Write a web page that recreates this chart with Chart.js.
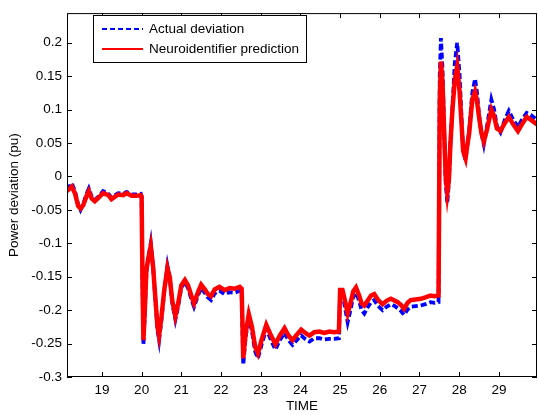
<!DOCTYPE html>
<html><head><meta charset="utf-8">
<script src="https://cdn.jsdelivr.net/npm/chart.js@4.4.1/dist/chart.umd.min.js"></script>
<style>html,body{margin:0;padding:0;background:#fff;overflow:hidden}#wrap{position:relative;width:538px;height:415px}</style>
</head><body><div id="wrap"><canvas id="c" width="538" height="415"></canvas></div>
<script>
const time = [
 18.12,18.24,18.32,18.40,18.46,18.53,18.62,18.67,18.74,18.82,18.91,19.03,19.16,19.24,19.41,19.54,19.62,19.75,19.87,19.98,
 20.00,20.02,20.045,20.08,20.12,20.16,20.23,20.29,20.35,20.40,20.44,20.50,20.57,20.65,20.71,20.77,20.85,20.92,21.00,21.09,
 21.17,21.25,21.32,21.42,21.50,21.59,21.67,21.75,21.84,21.96,22.09,22.22,22.34,22.47,22.52,
 22.56,22.62,22.70,22.78,22.86,22.93,23.02,23.14,23.26,23.37,23.48,23.60,23.70,23.80,23.92,24.02,24.12,24.23,24.35,24.48,
 24.60,24.73,24.85,24.97,
 25.00,25.06,25.12,25.19,25.26,25.33,25.40,25.48,25.54,25.61,25.70,25.78,25.86,25.96,26.07,26.17,26.28,26.38,26.45,26.53,
 26.61,26.70,26.78,26.90,27.03,27.15,27.28,27.38,27.48,
 27.51,27.54,27.58,27.62,27.66,27.70,27.74,27.78,27.83,27.89,27.95,28.01,28.06,28.10,28.16,28.20,28.25,28.33,28.40,28.45,
 28.50,28.56,28.62,28.70,28.81,28.88,28.95,29.04,29.15,29.25,29.36,29.48,29.58,29.70,29.80,29.96
];
const actualDeviation = [
 -0.020,-0.010,-0.022,-0.042,-0.050,-0.041,-0.025,-0.018,-0.030,-0.035,-0.030,-0.022,-0.026,-0.031,-0.025,-0.026,-0.023,-0.027,-0.027,-0.026,
 -0.030,-0.150,-0.252,-0.205,-0.143,-0.125,-0.100,-0.136,-0.188,-0.230,-0.245,-0.214,-0.172,-0.134,-0.153,-0.189,-0.214,-0.194,-0.166,-0.158,
 -0.167,-0.183,-0.195,-0.178,-0.167,-0.174,-0.181,-0.185,-0.175,-0.171,-0.176,-0.173,-0.174,-0.171,-0.174,
 -0.282,-0.240,-0.210,-0.232,-0.262,-0.272,-0.252,-0.228,-0.245,-0.259,-0.245,-0.234,-0.245,-0.252,-0.244,-0.238,-0.243,-0.247,-0.242,-0.242,
 -0.244,-0.243,-0.243,-0.242,
 -0.172,-0.175,-0.195,-0.218,-0.200,-0.180,-0.174,-0.186,-0.200,-0.205,-0.195,-0.188,-0.185,-0.194,-0.200,-0.195,-0.191,-0.194,-0.197,-0.201,
 -0.207,-0.199,-0.195,-0.194,-0.193,-0.191,-0.188,-0.189,-0.188,
 0.150,0.207,0.160,0.070,-0.010,-0.040,-0.008,0.052,0.103,0.170,0.200,0.152,0.085,0.040,0.024,0.045,0.067,0.125,0.146,0.125,
 0.092,0.065,0.048,0.075,0.115,0.100,0.075,0.066,0.085,0.098,0.085,0.074,0.085,0.095,0.092,0.085
];
const neuroPrediction = [
 -0.022,-0.015,-0.025,-0.044,-0.048,-0.043,-0.028,-0.022,-0.033,-0.037,-0.032,-0.025,-0.028,-0.034,-0.027,-0.028,-0.025,-0.029,-0.029,-0.028,
 -0.030,-0.150,-0.245,-0.200,-0.140,-0.125,-0.104,-0.136,-0.185,-0.225,-0.238,-0.210,-0.170,-0.137,-0.151,-0.185,-0.209,-0.190,-0.163,-0.155,
 -0.163,-0.178,-0.190,-0.173,-0.162,-0.169,-0.176,-0.179,-0.169,-0.165,-0.170,-0.167,-0.168,-0.165,-0.168,
 -0.272,-0.235,-0.206,-0.225,-0.255,-0.265,-0.245,-0.222,-0.238,-0.251,-0.238,-0.227,-0.238,-0.245,-0.236,-0.229,-0.234,-0.238,-0.233,-0.232,
 -0.234,-0.232,-0.233,-0.232,
 -0.170,-0.170,-0.185,-0.205,-0.190,-0.172,-0.166,-0.178,-0.190,-0.193,-0.185,-0.178,-0.176,-0.185,-0.191,-0.186,-0.183,-0.186,-0.188,-0.192,
 -0.198,-0.189,-0.185,-0.184,-0.183,-0.181,-0.178,-0.179,-0.178,
 0.110,0.172,0.140,0.070,0.000,-0.025,-0.005,0.050,0.100,0.145,0.165,0.127,0.078,0.038,0.027,0.045,0.064,0.115,0.127,0.112,
 0.089,0.065,0.052,0.070,0.100,0.090,0.072,0.068,0.080,0.089,0.078,0.068,0.078,0.089,0.085,0.078
];
const xTickValues = [19,20,21,22,23,24,25,26,27,28,29];
const xTickLabels = ['19','20','21','22','23','24','25','26','27','28','29'];
const yTickValues = [-0.3,-0.25,-0.2,-0.15,-0.1,-0.05,0,0.05,0.1,0.15,0.2];
const yTickLabels = ['-0.3','-0.25','-0.2','-0.15','-0.1','-0.05','0','0.05','0.1','0.15','0.2'];
const seriesLabels = ['Actual deviation','Neuroidentifier prediction'];
const xTitle = 'TIME';
const yTitle = 'Power deviation (pu)';

const FONT = {family:"'Liberation Sans', Arial, Helvetica, sans-serif", size:13.5};

const framePlugin = {
  id:'frame',
  afterDraw(chart){
    const ctx = chart.ctx, a = chart.chartArea;
    const xs = chart.scales.x, ys = chart.scales.y;
    ctx.save();
    ctx.strokeStyle = '#000'; ctx.lineWidth = 1;
    ctx.strokeRect(a.left+0.5, a.top+0.5, a.right-a.left-1, a.bottom-a.top-1);
    ctx.beginPath();
    const TL = 5;
    xTickValues.forEach(v=>{
      const px = Math.round(xs.getPixelForValue(v))+0.5;
      ctx.moveTo(px, a.bottom); ctx.lineTo(px, a.bottom-TL);
      ctx.moveTo(px, a.top); ctx.lineTo(px, a.top+TL);
    });
    yTickValues.forEach(v=>{
      const py = Math.round(ys.getPixelForValue(v))+0.5;
      ctx.moveTo(a.left, py); ctx.lineTo(a.left+TL, py);
      ctx.moveTo(a.right, py); ctx.lineTo(a.right-TL, py);
    });
    ctx.stroke();
    // legend
    const bx=93, by=15, bw=213, bh=47;
    ctx.fillStyle='#fff'; ctx.fillRect(bx,by,bw,bh);
    ctx.strokeStyle='#000'; ctx.lineWidth=1;
    ctx.strokeRect(bx+0.5,by+0.5,bw,bh);
    const ds = chart.data.datasets;
    const rows=[29,49];
    ds.forEach((d,i)=>{
      ctx.beginPath();
      ctx.strokeStyle=d.borderColor; ctx.lineWidth=2.2;
      ctx.setLineDash(i===0?[5,3]:[]);
      ctx.moveTo(102,rows[i]); ctx.lineTo(143,rows[i]); ctx.stroke();
      ctx.setLineDash([]);
      ctx.fillStyle='#000';
      ctx.font = FONT.size+'px '+FONT.family;
      ctx.textBaseline='middle'; ctx.textAlign='left';
      ctx.fillText(d.label,149,rows[i]);
    });
    ctx.restore();
  }
};

new Chart(document.getElementById('c'),{
  type:'line',
  data:{datasets:[
    {label:seriesLabels[0], data:time.map((t,i)=>({x:t,y:actualDeviation[i]})), borderColor:'#0000ff', borderWidth:3.8, borderDash:[6,3], pointRadius:0, tension:0, fill:false, order:2},
    {label:seriesLabels[1], data:time.map((t,i)=>({x:t,y:neuroPrediction[i]})), borderColor:'#ff0000', borderWidth:4.5, pointRadius:0, tension:0, fill:false, order:1}
  ]},
  options:{
    responsive:false, animation:false, devicePixelRatio:1,
    layout:{padding:{left:0,right:1,top:9,bottom:0}},
    plugins:{legend:{display:false}, tooltip:{enabled:false}},
    scales:{
      x:{type:'linear', min:18.12, max:29.96,
        afterBuildTicks:s=>{s.ticks=xTickValues.map(v=>({value:v}));},
        afterFit:s=>{s.height=38;},
        ticks:{font:FONT, color:'#000', padding:5, maxRotation:0, autoSkip:false,
          callback:(v)=>{const i=xTickValues.indexOf(v);return i>=0?xTickLabels[i]:'';}},
        grid:{display:false, drawTicks:false}, border:{display:false},
        title:{display:true, text:xTitle, font:FONT, color:'#000', padding:{top:0,bottom:1}}
      },
      y:{type:'linear', min:-0.3, max:0.2444,
        afterBuildTicks:s=>{s.ticks=yTickValues.map(v=>({value:v}));},
        afterFit:s=>{s.width=67;},
        ticks:{font:FONT, color:'#000', padding:5, autoSkip:false,
          callback:(v)=>{const i=yTickValues.indexOf(v);return i>=0?yTickLabels[i]:'';}},
        grid:{display:false, drawTicks:false}, border:{display:false},
        title:{display:true, text:yTitle, font:FONT, color:'#000', padding:{top:6,bottom:0}}
      }
    }
  },
  plugins:[framePlugin]
});
</script></body></html>
